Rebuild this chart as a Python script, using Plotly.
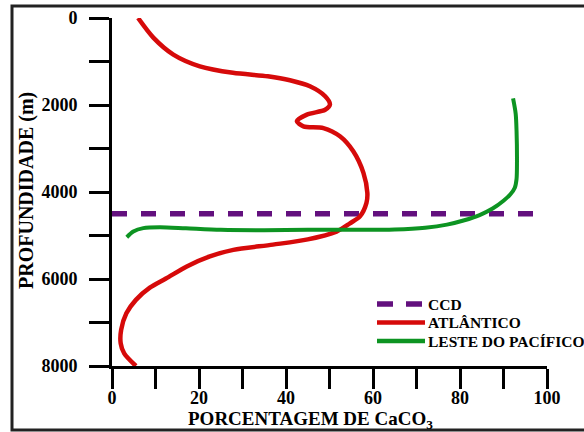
import plotly.graph_objects as go

# CaCO3 content (%) versus water depth (m)
ccd_depth = 4500
ccd_pct = [0, 97]

atl_depth = [0, 450, 840, 1110, 1260, 1340, 1430, 1570, 1800, 1990, 2110, 2220,
             2370, 2490, 2530, 2720, 3070, 3560, 4020, 4250, 4560, 4720, 4910,
             5090, 5210, 5330, 5480, 5710, 5990, 6200, 6480, 6790, 7170, 7480,
             7710, 8000]
atl_pct = [6.0, 9.5, 14.1, 20.2, 27.8, 35.8, 40.9, 45.5, 49.0, 50.1, 49.0, 44.8,
           42.5, 44.0, 48.6, 52.4, 55.5, 57.8, 58.7, 58.5, 57.0, 54.7, 51.6,
           45.0, 37.0, 27.9, 22.5, 17.2, 12.4, 8.7, 5.5, 3.3, 2.1, 2.0,
           2.8, 5.5]

pac_depth = [1850, 2200, 2600, 3300, 3700, 3900, 4050, 4200, 4380, 4530, 4650,
             4750, 4820, 4860, 4870, 4870, 4880, 4870, 4835, 4810, 4830, 4910,
             5040]
pac_pct = [92.2, 92.8, 93.0, 93.1, 93.0, 92.6, 91.6, 90.0, 87.5, 84.5, 81.0,
           77.0, 72.0, 65.0, 55.0, 45.0, 35.0, 25.0, 17.0, 11.0, 7.2, 4.9, 3.4]

x_tick_vals = [0, 10, 20, 30, 40, 50, 60, 70, 80, 90, 100]
x_tick_text = ["0", "", "20", "", "40", "", "60", "", "80", "", "100"]
y_tick_vals = [0, 1000, 2000, 3000, 4000, 5000, 6000, 7000, 8000]
y_tick_text = ["0", "", "2000", "", "4000", "", "6000", "", "8000"]

legend_names = ["CCD", "ATLÂNTICO", "LESTE DO PACÍFICO"]

SERIF = "Liberation Serif, Times New Roman, serif"
PURPLE = "#63107e"
RED = "#d60a0a"
GREEN = "#0d9422"
DASH = "15px,14px"

W, H = 584, 432
ML, MR, MT, MB = 112, 37, 18, 66
PW, PH = W - ML - MR, H - MT - MB


def px_x(p):
    return (p - ML) / PW


def px_y(p):
    return (H - MB - p) / PH


fig = go.Figure()

fig.add_trace(go.Scatter(
    x=ccd_pct, y=[ccd_depth, ccd_depth], mode="lines", name=legend_names[0],
    line=dict(color=PURPLE, width=5.5, dash=DASH),
))
fig.add_trace(go.Scatter(
    x=atl_pct, y=atl_depth, mode="lines", name=legend_names[1],
    line=dict(color=RED, width=4.5, shape="spline", smoothing=0.8),
))
fig.add_trace(go.Scatter(
    x=pac_pct, y=pac_depth, mode="lines", name=legend_names[2],
    line=dict(color=GREEN, width=4, shape="spline", smoothing=0.8),
))

tick_font = dict(family=SERIF, size=18, color="black", weight="bold")

fig.update_xaxes(
    range=[0, 100], tickvals=x_tick_vals, ticktext=x_tick_text,
    ticks="outside", ticklen=20, tickwidth=3, tickcolor="black",
    showline=True, linewidth=3, linecolor="black",
    showgrid=False, zeroline=False, tickfont=tick_font,
    ticklabelstandoff=-7,
)
fig.update_yaxes(
    range=[8000, 0], tickvals=y_tick_vals, ticktext=y_tick_text,
    ticks="outside", ticklen=20, tickwidth=3, tickcolor="black",
    showline=True, linewidth=3, linecolor="black",
    showgrid=False, zeroline=False, tickfont=tick_font,
    ticklabelstandoff=8,
)

# axis titles
fig.add_annotation(
    x=px_x(310), y=px_y(420), xref="paper", yref="paper",
    text="PORCENTAGEM DE CaCO<sub>3</sub>", showarrow=False,
    xanchor="center", yanchor="middle",
    font=dict(family=SERIF, size=19, color="black", weight="bold"),
)
fig.add_annotation(
    x=px_x(26), y=px_y(191), xref="paper", yref="paper",
    text="PROFUNDIDADE (m)", showarrow=False, textangle=-90,
    xanchor="center", yanchor="middle",
    font=dict(family=SERIF, size=20, color="black", weight="bold"),
)

# legend drawn as line samples with labels
legend_styles = [
    dict(color=PURPLE, width=5.5, dash="16px,13px"),
    dict(color=RED, width=4.5),
    dict(color=GREEN, width=4.5),
]
legend_rows = [304, 322.5, 341]
for name, style, row in zip(legend_names, legend_styles, legend_rows):
    fig.add_shape(
        type="line", xref="paper", yref="paper",
        x0=px_x(377), x1=px_x(425), y0=px_y(row), y1=px_y(row),
        line=style,
    )
    fig.add_annotation(
        x=px_x(426), y=px_y(row), xref="paper", yref="paper",
        text=name, showarrow=False, xanchor="left", yanchor="middle",
        font=dict(family=SERIF, size=15.5, color="black", weight="bold"),
    )

# outer frame
fig.add_shape(
    type="rect", xref="paper", yref="paper",
    x0=px_x(12), x1=px_x(600), y0=px_y(430), y1=px_y(6),
    line=dict(color="#222222", width=3), fillcolor="rgba(0,0,0,0)",
    layer="below",
)

fig.update_layout(
    width=W, height=H,
    margin=dict(l=ML, r=MR, t=MT, b=MB, autoexpand=False),
    paper_bgcolor="white", plot_bgcolor="white",
    showlegend=False,
)

fig.write_html("out.html")
